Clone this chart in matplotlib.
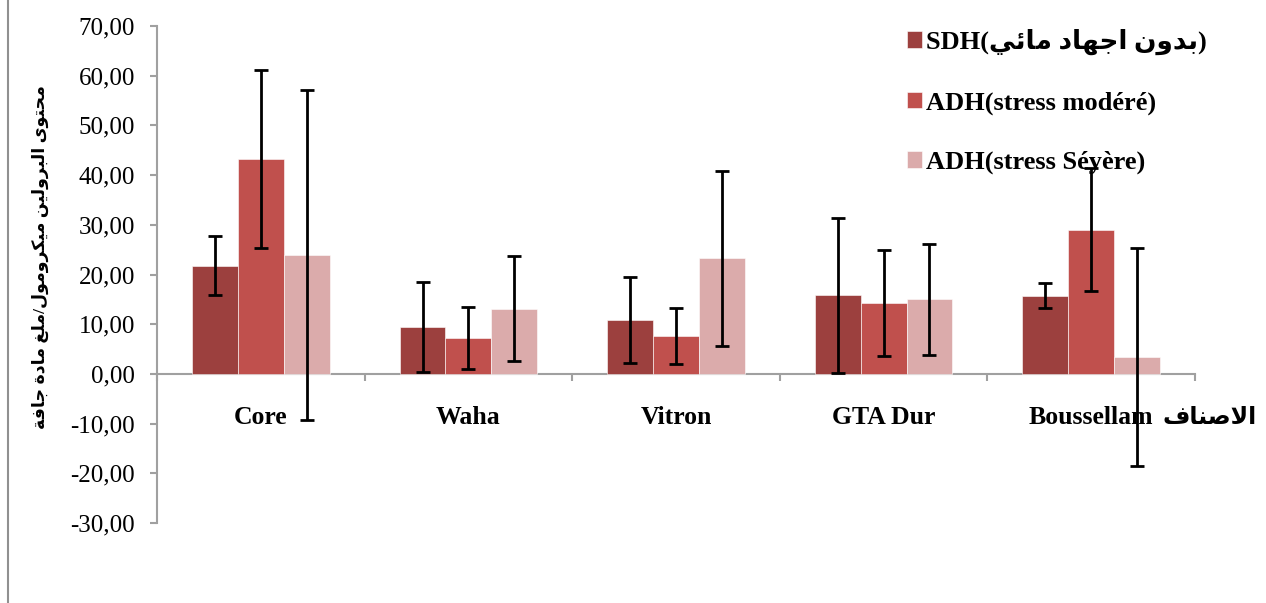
import numpy as np
import matplotlib
matplotlib.use("Agg")
import matplotlib.pyplot as plt
from matplotlib.lines import Line2D
from matplotlib.ticker import FuncFormatter, FixedLocator

# ---------------- data ----------------
categories = ["Core", "Waha", "Vitron", "GTA Dur", "Boussellam"]
sdh_vals = [21.8, 9.4, 10.8, 15.8, 15.7]
sdh_err = [6.0, 9.1, 8.6, 15.6, 2.5]
mod_vals = [43.3, 7.2, 7.6, 14.3, 29.0]
mod_err = [17.9, 6.3, 5.7, 10.6, 12.4]
sev_vals = [24.0, 13.1, 23.3, 15.0, 3.4]
sev_err = [33.2, 10.6, 17.6, 11.1, 22.0]
series_names = ["SDH(بدون اجهاد مائي)", "ADH(stress modéré)", "ADH(stress Séyère)"]
ylabel_text = "محتوى البرولين ميكرومول/ملغ مادة جافة"
xlabel_text = "الاصناف"
yticks = [-30, -20, -10, 0, 10, 20, 30, 40, 50, 60, 70]

colors = ["#9C403E", "#C0504D", "#DBABAB"]

# ---------------- minimal Arabic shaping (presentation forms + visual order) ----------------
DUAL = {'ئ': 0xFE89, 'ب': 0xFE8F, 'ت': 0xFE95, 'ث': 0xFE99, 'ج': 0xFE9D, 'ح': 0xFEA1,
        'خ': 0xFEA5, 'س': 0xFEB1, 'ش': 0xFEB5, 'ص': 0xFEB9, 'ض': 0xFEBD, 'ط': 0xFEC1,
        'ظ': 0xFEC5, 'ع': 0xFEC9, 'غ': 0xFECD, 'ف': 0xFED1, 'ق': 0xFED5, 'ك': 0xFED9,
        'ل': 0xFEDD, 'م': 0xFEE1, 'ن': 0xFEE5, 'ه': 0xFEE9, 'ي': 0xFEF1}
RIGHT = {'آ': 0xFE81, 'أ': 0xFE83, 'ؤ': 0xFE85, 'إ': 0xFE87, 'ا': 0xFE8D, 'ة': 0xFE93,
         'د': 0xFEA9, 'ذ': 0xFEAB, 'ر': 0xFEAD, 'ز': 0xFEAF, 'و': 0xFEED, 'ى': 0xFEEF}
LAMALEF = {'ا': 0xFEFB, 'أ': 0xFEF7, 'إ': 0xFEF9, 'آ': 0xFEF5}


def shape(s):
    tokens = []
    i = 0
    while i < len(s):
        c = s[i]
        if c == 'ل' and i + 1 < len(s) and s[i + 1] in LAMALEF:
            tokens.append(('LA', s[i + 1]))
            i += 2
        else:
            tokens.append(('C', c))
            i += 1

    def joins_next(t):
        return t[0] == 'C' and t[1] in DUAL

    def is_ar(t):
        return t[0] == 'LA' or t[1] in DUAL or t[1] in RIGHT

    out = []
    for k, t in enumerate(tokens):
        prev = tokens[k - 1] if k > 0 else None
        nxt = tokens[k + 1] if k + 1 < len(tokens) else None
        cp = prev is not None and joins_next(prev)
        if t[0] == 'LA':
            out.append(chr(LAMALEF[t[1]] + (1 if cp else 0)))
            continue
        c = t[1]
        if c in DUAL:
            cn = nxt is not None and is_ar(nxt)
            b = DUAL[c]
            if cp and cn:
                out.append(chr(b + 3))
            elif cp:
                out.append(chr(b + 1))
            elif cn:
                out.append(chr(b + 2))
            else:
                out.append(chr(b))
        elif c in RIGHT:
            out.append(chr(RIGHT[c] + (1 if cp else 0)))
        else:
            out.append(c)
    return ''.join(reversed(out))


def visual_label(name):
    if '(' in name and any('\u0600' <= ch <= '\u06FF' for ch in name):
        head, rest = name.split('(', 1)
        inner = rest.rstrip(')')
        return head + '(' + shape(inner) + ')'
    return name


# ---------------- figure ----------------
plt.rcParams['font.family'] = ['Liberation Serif', 'DejaVu Sans']
fig = plt.figure(figsize=(12.66, 6.03), dpi=100)
ax = fig.add_axes([157 / 1266, 1 - 523 / 603, (1195 - 157) / 1266, (523 - 26) / 603])

x = np.arange(len(categories))
w = 0.221
all_vals = [sdh_vals, mod_vals, sev_vals]
all_err = [sdh_err, mod_err, sev_err]
handles = []
for i, (vals, errs) in enumerate(zip(all_vals, all_err)):
    pos = x + (i - 1) * w
    b = ax.bar(pos, vals, width=w, color=colors[i], edgecolor='white', linewidth=0.4, zorder=2,
               label=visual_label(series_names[i]))
    handles.append(b)
    ax.errorbar(pos, vals, yerr=errs, fmt='none', ecolor='black', elinewidth=2,
                capsize=5, capthick=2, zorder=3)

ax.set_xlim(-0.5, len(categories) - 0.5)
ax.set_ylim(-30, 70)
ax.set_yticks(yticks)
ax.yaxis.set_major_formatter(FuncFormatter(lambda v, p: f"{v:.2f}".replace('.', ',')))

for s in ['top', 'right']:
    ax.spines[s].set_visible(False)
ax.spines['left'].set_color('#A0A0A0')
ax.spines['left'].set_linewidth(1.5)
ax.spines['bottom'].set_position(('data', 0))
ax.spines['bottom'].set_color('#A0A0A0')
ax.spines['bottom'].set_linewidth(1.5)
ax.spines['bottom'].set_zorder(1)

ax.set_xticks(x)
ax.set_xticklabels(categories, fontsize=18.5, fontweight='bold')
ax.xaxis.set_minor_locator(FixedLocator(np.arange(-0.5, len(categories), 1.0)))
ax.tick_params(axis='x', which='major', length=0, pad=23)
ax.tick_params(axis='x', which='minor', length=5, width=1.5, color='#A0A0A0', direction='out')
ax.tick_params(axis='y', length=5, width=1.5, color='#A0A0A0', labelsize=18, pad=11)
ax.patch.set_visible(False)

# axis titles
fig.text(40 / 1266, 1 - 257 / 603, shape(ylabel_text), rotation=90, ha='center', va='center',
         fontsize=12.5, fontweight='bold')
fig.text(1210 / 1266, 1 - 418 / 603, shape(xlabel_text), ha='center', va='center',
         fontsize=17, fontweight='bold')

# legend
leg = fig.legend(handles=handles, loc='upper left', bbox_to_anchor=(896 / 1266, 1 - 18 / 603),
                 frameon=False, prop={'size': 19, 'weight': 'bold'}, handlelength=0.6,
                 handleheight=0.6, handletextpad=0.15, labelspacing=1.38, borderaxespad=0)

# outer chart border (left edge)
fig.add_artist(Line2D([8 / 1266, 8 / 1266], [0, 1], transform=fig.transFigure,
                      color='#909090', linewidth=1.5))

fig.savefig('out.png', dpi=100)
